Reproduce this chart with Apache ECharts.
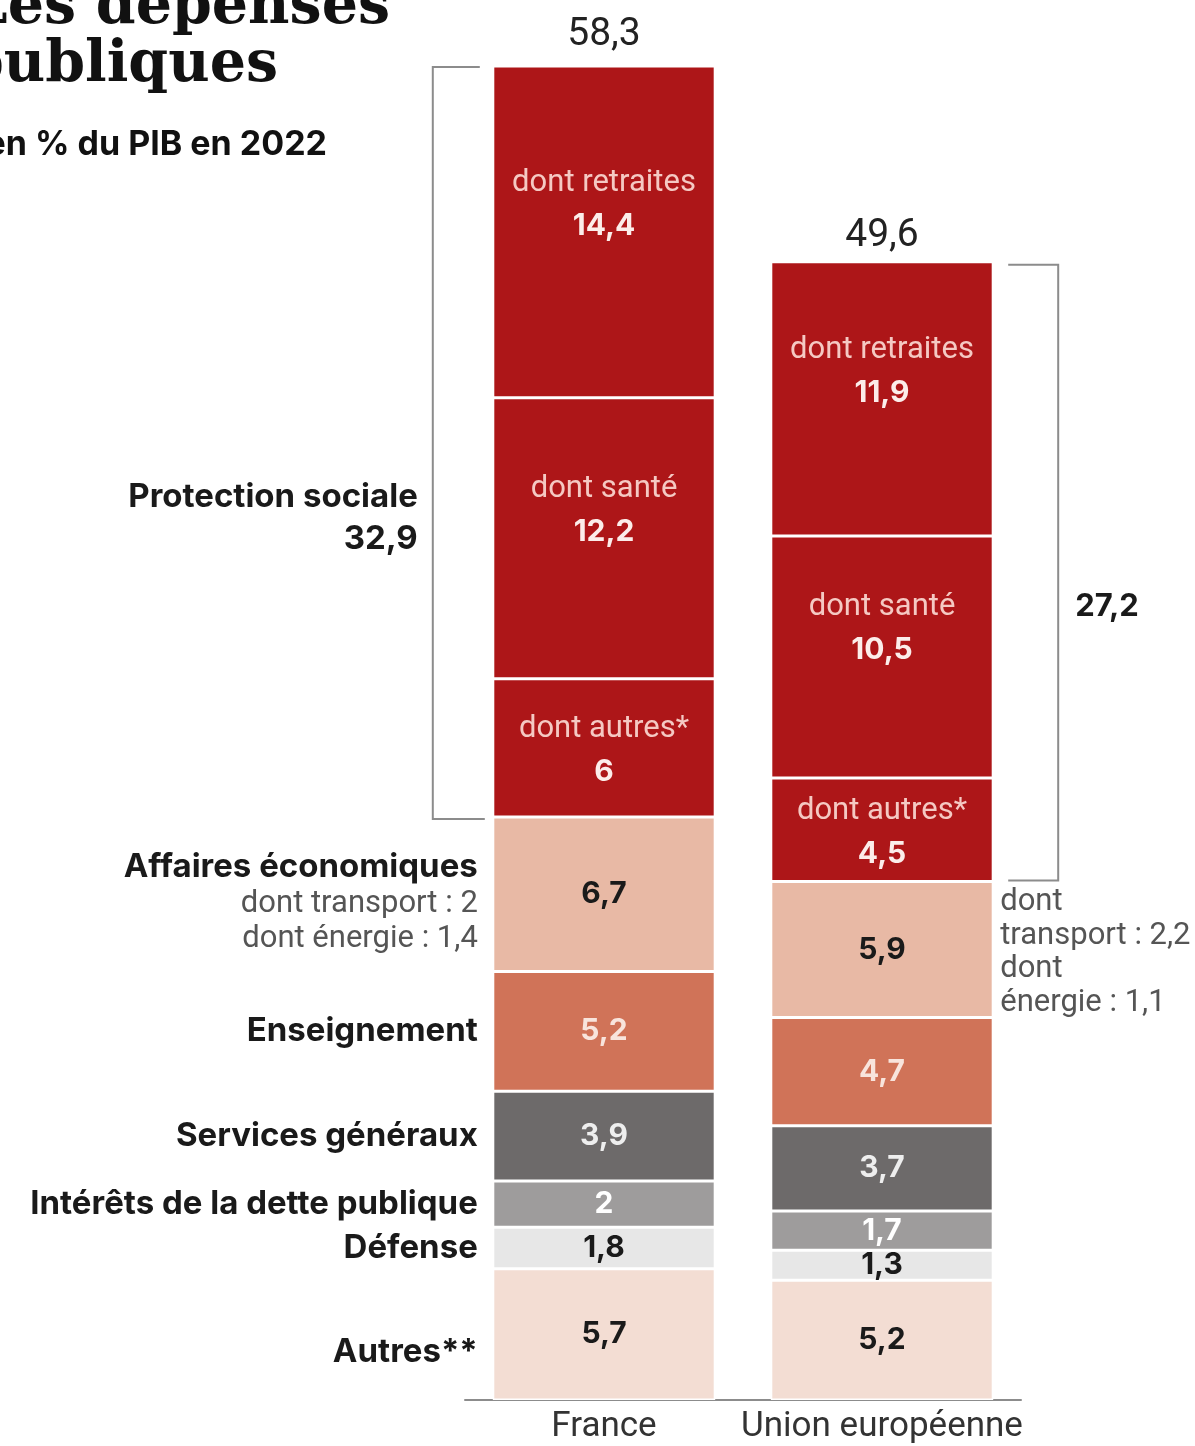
<!DOCTYPE html>
<html>
<head>
<meta charset="utf-8">
<script src="https://cdn.jsdelivr.net/npm/echarts@6/dist/echarts.min.js"></script>
<style>
html,body{margin:0;padding:0;background:#fff;}
#main{width:1195px;height:1446px;}
</style>
</head>
<body>
<div id="main"></div>
<script>
// ---- data ----
const categories = ['France', 'Union européenne'];
const retraites = [14.4, 11.9];
const sante = [12.2, 10.5];
const autresSocial = [6, 4.5];
const affaires = [6.7, 5.9];
const enseignement = [5.2, 4.7];
const services = [3.9, 3.7];
const interets = [2, 1.7];
const defense = [1.8, 1.3];
const autres = [5.7, 5.2];
const totals = [58.3, 49.6];
const protectionTotals = [32.9, 27.2];
const transport = [2, 2.2];
const energie = [1.4, 1.1];

const fmt = v => String(v).replace('.', ',');
const SANS = 'Roboto, "Noto Sans", sans-serif';
const BOLD = 'Inter, Roboto, sans-serif';

function seg(name, data, color, labelColor, opts) {
  opts = opts || {};
  const label = {
    show: true,
    position: 'inside',
    fontFamily: BOLD,
    fontWeight: 'bold',
    fontSize: 30,
    color: labelColor,
    offset: opts.offset || [0, 0],
    formatter: p => fmt(p.value)
  };
  if (opts.sub) {
    label.formatter = p => '{t|' + opts.sub + '}\n{n|' + fmt(p.value) + '}';
    label.rich = {
      t: {fontFamily: SANS, fontSize: 31, fontWeight: 'normal', color: '#F5C9C3', lineHeight: 43},
      n: {fontFamily: BOLD, fontSize: 30, fontWeight: 'bold', color: '#FCEDEA', lineHeight: 43}
    };
  }
  return {
    name: name,
    type: 'bar',
    stack: 'total',
    barWidth: '80%',
    data: data,
    itemStyle: {color: color, borderColor: '#fff', borderWidth: 1.5},
    label: label,
    emphasis: {disabled: true}
  };
}

const chart = echarts.init(document.getElementById('main'), null, {renderer: 'canvas'});
const YMAX = 60;
const option = {
  animation: false,
  backgroundColor: '#fff',
  grid: {left: 465, right: 174, top: 17.6, bottom: 46},
  xAxis: {
    type: 'category',
    data: categories,
    axisTick: {show: false},
    axisLine: {lineStyle: {color: '#8c8c8c', width: 2}},
    axisLabel: {interval: 0, fontFamily: SANS, fontSize: 35, color: '#333', margin: 10}
  },
  yAxis: {type: 'value', min: 0, max: YMAX, show: false, splitLine: {show: false}},
  series: [
    seg('Autres**', autres, '#F3DDD3', '#1a1a1a'),
    seg('Défense', defense, '#E7E7E7', '#1a1a1a'),
    seg('Intérêts de la dette publique', interets, '#9E9C9C', '#FFFFFF'),
    seg('Services généraux', services, '#6D6A6A', '#EEEEEE'),
    seg('Enseignement', enseignement, '#D07358', '#F8E4DC'),
    seg('Affaires économiques', affaires, '#E8B9A5', '#1a1a1a'),
    seg('dont autres*', autresSocial, '#AD1618', '#fff', {sub: 'dont autres*', offset: [0, 3]}),
    seg('dont santé', sante, '#AD1618', '#fff', {sub: 'dont santé', offset: [0, -28]}),
    seg('dont retraites', retraites, '#AD1618', '#fff', {sub: 'dont retraites', offset: [0, -27]})
  ]
};
chart.setOption(option);

// ---- annotations positioned through the chart's own scales ----
const P = (i, v) => chart.convertToPixel({gridIndex: 0}, [i, v]);
const band = P(1, 0)[0] - P(0, 0)[0];
const half = band * 0.4;
const cum = i => {
  const order = [autres, defense, interets, services, enseignement, affaires, autresSocial, sante, retraites];
  const out = [0];
  order.forEach(a => out.push(out[out.length - 1] + a[i]));
  return out;
};
const cF = cum(0), cE = cum(1);
const xF = P(0, 0)[0], xE = P(1, 0)[0];
const yF = v => P(0, v)[1];
const yE = v => P(1, v)[1];
const mid = (c, k, yf) => (yf(c[k]) + yf(c[k + 1])) / 2;

const graphics = [];
function txt(x, y, text, style) {
  graphics.push({type: 'text', x: x, y: y, silent: true, style: Object.assign({text: text, fill: '#1a1a1a', fontFamily: SANS}, style)});
}

// Title (clipped at left like the reference)
txt(390, 8, 'Les dépenses', {align: 'right', verticalAlign: 'middle', fontFamily: '"DejaVu Serif", serif', fontWeight: 'bold', fontSize: 57, fill: '#111'});
txt(278, 66, 'publiques', {align: 'right', verticalAlign: 'middle', fontFamily: '"DejaVu Serif", serif', fontWeight: 'bold', fontSize: 57, fill: '#111'});
txt(327, 145, 'en % du PIB en 2022', {align: 'right', verticalAlign: 'middle', fontFamily: BOLD, fontWeight: 'bold', fontSize: 34, fill: '#111'});

// Totals on top of bars
txt(xF, yF(cF[9]) - 31, fmt(totals[0]), {align: 'center', verticalAlign: 'middle', fontSize: 39, fill: '#222'});
txt(xE, yE(cE[9]) - 26, fmt(totals[1]), {align: 'center', verticalAlign: 'middle', fontSize: 39, fill: '#222'});

// Left category labels (aligned to France segments)
const lx = xF - half - 15;
const LFS = 33;
const leftNames = ['Autres**', 'Défense', 'Intérêts de la dette publique', 'Services généraux', 'Enseignement'];
leftNames.forEach((n, k) => {
  txt(lx, mid(cF, k, yF) + (k === 0 ? 18 : 0), n, {align: 'right', verticalAlign: 'middle', fontFamily: BOLD, fontWeight: 'bold', fontSize: LFS});
});
txt(lx, mid(cF, 5, yF) + 8,
  '{h|Affaires économiques}\n{s|dont transport : ' + fmt(transport[0]) + '}\n{s|dont énergie : ' + fmt(energie[0]) + '}',
  {align: 'right', verticalAlign: 'middle', rich: {
    h: {fontFamily: BOLD, fontWeight: 'bold', fontSize: LFS, fill: '#1a1a1a', lineHeight: 38, align: 'right'},
    s: {fontFamily: SANS, fontSize: 31, fill: '#555', lineHeight: 35, align: 'right'}
  }});

// France bracket for Protection sociale
const bxF = xF - half - 60;
const topF = yF(cF[9]) + 1, botF = yF(cF[6]) + 2;
graphics.push({type: 'polyline', silent: true, shape: {points: [[xF - half - 13, topF], [bxF, topF], [bxF, botF], [xF - half - 8, botF]]},
  style: {stroke: '#8c8c8c', lineWidth: 2, fill: null}});
txt(bxF - 15, (topF + botF) / 2 + 75,
  '{h|Protection sociale}\n{h|' + fmt(protectionTotals[0]) + '}',
  {align: 'right', verticalAlign: 'middle', rich: {h: {fontFamily: BOLD, fontWeight: 'bold', fontSize: LFS, fill: '#1a1a1a', lineHeight: 42, align: 'right'}}});

// EU bracket
const bxE = xE + half + 65;
const topE = yE(cE[9]) + 3, botE = yE(cE[6]) - 1;
graphics.push({type: 'polyline', silent: true, shape: {points: [[xE + half + 15, topE], [bxE, topE], [bxE, botE], [xE + half + 15, botE]]},
  style: {stroke: '#8c8c8c', lineWidth: 2, fill: null}});
txt(bxE + 17, (topE + botE) / 2 + 34, fmt(protectionTotals[1]), {align: 'left', verticalAlign: 'middle', fontFamily: BOLD, fontWeight: 'bold', fontSize: 31});

// EU affaires details
txt(xE + half + 7, mid(cE, 5, yE) + 3,
  'dont\ntransport : ' + fmt(transport[1]) + '\ndont\nénergie : ' + fmt(energie[1]),
  {align: 'left', verticalAlign: 'middle', fontSize: 31, fill: '#555', lineHeight: 33.5});

chart.setOption({graphic: graphics});
</script>
</body>
</html>
